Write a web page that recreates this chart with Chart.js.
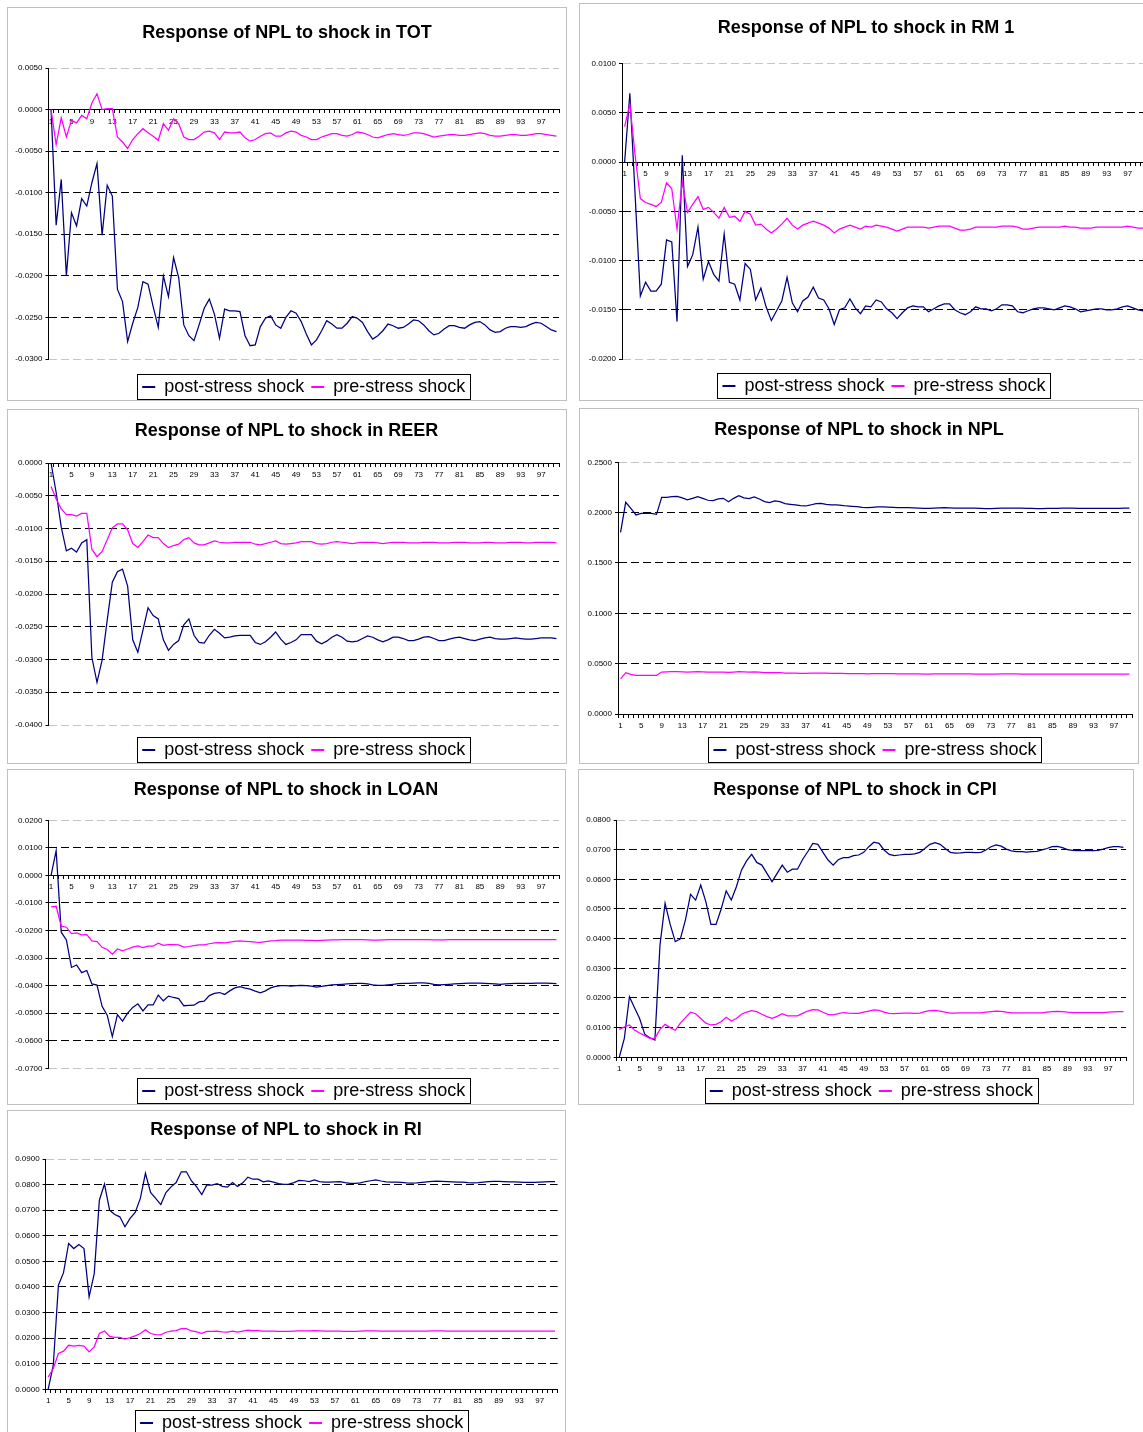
<!DOCTYPE html>
<html><head><meta charset="utf-8">
<script src="https://cdn.jsdelivr.net/npm/chart.js@4.4.1/dist/chart.umd.min.js"></script>
<style>
html,body{margin:0;padding:0;background:#fff;}
body{width:1143px;height:1432px;overflow:hidden;position:relative;}
.panel{position:absolute;border:1px solid #c0c0c0;box-sizing:border-box;background:#fff;}
.title{position:absolute;font:bold 18px "Liberation Sans",Arial,sans-serif;line-height:18px;color:#000;white-space:nowrap;transform:translate(-50%,-50%);}
canvas{position:absolute;}
</style></head><body>
<script>
// ---------- categories ----------
const periods = [1,2,3,4,5,6,7,8,9,10,11,12,13,14,15,16,17,18,19,20,21,22,23,24,25,26,27,28,29,30,
31,32,33,34,35,36,37,38,39,40,41,42,43,44,45,46,47,48,49,50,51,52,53,54,55,56,57,58,59,60,
61,62,63,64,65,66,67,68,69,70,71,72,73,74,75,76,77,78,79,80,81,82,83,84,85,86,87,88,89,90,
91,92,93,94,95,96,97,98,99,100];

const seriesNames = ['post-stress shock', 'pre-stress shock'];

// ---------- TOT ----------
const totPost = [0,-0.0139,-0.0084,-0.0200,-0.0124,-0.0140,-0.0107,-0.0116,-0.0088,-0.0065,
-0.0151,-0.0091,-0.0104,-0.0216,-0.0231,-0.0279,-0.0257,-0.0238,-0.0207,-0.0210,
-0.0237,-0.0262,-0.0200,-0.0225,-0.0178,-0.0202,-0.0259,-0.0272,-0.0278,-0.0259,
-0.0239,-0.0228,-0.0246,-0.0275,-0.0240,-0.0242,-0.0242,-0.0243,-0.0272,-0.0284,
-0.0283,-0.0261,-0.0251,-0.0248,-0.0259,-0.0263,-0.0250,-0.0242,-0.0245,-0.0255,
-0.0270,-0.0283,-0.0277,-0.0266,-0.0254,-0.0258,-0.0263,-0.0263,-0.0257,-0.0249,
-0.0251,-0.0256,-0.0267,-0.0276,-0.0272,-0.0266,-0.0258,-0.0260,-0.0263,-0.0262,
-0.0258,-0.0253,-0.0254,-0.0259,-0.0266,-0.0271,-0.0269,-0.0264,-0.0260,-0.0260,
-0.0262,-0.0263,-0.0259,-0.0256,-0.0255,-0.0259,-0.0265,-0.0268,-0.0267,-0.0263,
-0.0261,-0.0261,-0.0262,-0.0261,-0.0258,-0.0256,-0.0257,-0.0261,-0.0265,-0.0267];
const totPre = [0,-0.0042,-0.0010,-0.0033,-0.0013,-0.0016,-0.0007,-0.0011,0.0008,0.0019,
0.0000,0.0001,0.0001,-0.0033,-0.0039,-0.0047,-0.0036,-0.0029,-0.0023,-0.0028,
-0.0032,-0.0037,-0.0017,-0.0025,-0.0011,-0.0017,-0.0033,-0.0036,-0.0036,-0.0032,
-0.0027,-0.0026,-0.0028,-0.0036,-0.0027,-0.0028,-0.0028,-0.0027,-0.0034,-0.0038,
-0.0036,-0.0032,-0.0029,-0.0028,-0.0032,-0.0032,-0.0028,-0.0026,-0.0027,-0.0031,
-0.0033,-0.0036,-0.0036,-0.0033,-0.0031,-0.0029,-0.0029,-0.0031,-0.0032,-0.0030,
-0.0027,-0.0028,-0.0030,-0.0033,-0.0034,-0.0032,-0.0030,-0.0029,-0.0030,-0.0031,
-0.0030,-0.0028,-0.0028,-0.0029,-0.0031,-0.0033,-0.0032,-0.0031,-0.0030,-0.0030,
-0.0031,-0.0031,-0.0030,-0.0029,-0.0028,-0.0029,-0.0031,-0.0032,-0.0032,-0.0031,
-0.0030,-0.0030,-0.0031,-0.0031,-0.0030,-0.0029,-0.0029,-0.0030,-0.0031,-0.0032];

// ---------- RM 1 ----------
const rm1Post = [0,0.0070,-0.0033,-0.0136,-0.0122,-0.0131,-0.0131,-0.0124,-0.0079,-0.0081,
-0.0162,0.0007,-0.0106,-0.0094,-0.0066,-0.0119,-0.0101,-0.0114,-0.0121,-0.0073,
-0.0122,-0.0124,-0.0140,-0.0103,-0.0109,-0.0140,-0.0128,-0.0147,-0.0161,-0.0151,
-0.0141,-0.0117,-0.0143,-0.0152,-0.0141,-0.0137,-0.0127,-0.0138,-0.0140,-0.0149,
-0.0165,-0.0150,-0.0148,-0.0139,-0.0148,-0.0154,-0.0146,-0.0147,-0.0140,-0.0142,
-0.0149,-0.0153,-0.0159,-0.0153,-0.0148,-0.0146,-0.0147,-0.0147,-0.0152,-0.0149,
-0.0146,-0.0144,-0.0144,-0.0150,-0.0153,-0.0155,-0.0152,-0.0147,-0.0149,-0.0149,
-0.0151,-0.0149,-0.0145,-0.0145,-0.0146,-0.0152,-0.0153,-0.0151,-0.0149,-0.0148,
-0.0148,-0.0149,-0.0150,-0.0148,-0.0146,-0.0147,-0.0149,-0.0152,-0.0151,-0.0150,
-0.0149,-0.0149,-0.0150,-0.0150,-0.0149,-0.0147,-0.0146,-0.0148,-0.0150,-0.0151];
const rm1Pre = [0.0036,0.0059,0.0007,-0.0037,-0.0041,-0.0043,-0.0045,-0.0041,-0.0021,-0.0027,
-0.0068,-0.0020,-0.0051,-0.0043,-0.0035,-0.0048,-0.0046,-0.0051,-0.0057,-0.0046,
-0.0056,-0.0055,-0.0060,-0.0050,-0.0053,-0.0064,-0.0063,-0.0068,-0.0072,-0.0068,
-0.0063,-0.0057,-0.0064,-0.0068,-0.0064,-0.0062,-0.0060,-0.0062,-0.0064,-0.0067,
-0.0072,-0.0068,-0.0066,-0.0064,-0.0066,-0.0068,-0.0065,-0.0066,-0.0064,-0.0065,
-0.0066,-0.0068,-0.0070,-0.0068,-0.0066,-0.0066,-0.0066,-0.0066,-0.0067,-0.0066,
-0.0065,-0.0065,-0.0065,-0.0067,-0.0069,-0.0069,-0.0068,-0.0066,-0.0066,-0.0066,
-0.0066,-0.0066,-0.0065,-0.0065,-0.0065,-0.0066,-0.0068,-0.0068,-0.0067,-0.0066,
-0.0066,-0.0066,-0.0066,-0.0066,-0.0065,-0.0066,-0.0066,-0.0067,-0.0067,-0.0067,
-0.0066,-0.0066,-0.0066,-0.0066,-0.0066,-0.0066,-0.0065,-0.0066,-0.0067,-0.0067];

// ---------- REER ----------
const reerPost = [0,-0.0045,-0.0098,-0.0134,-0.0130,-0.0136,-0.0122,-0.0117,-0.0297,-0.0335,
-0.0301,-0.0240,-0.0182,-0.0166,-0.0162,-0.0188,-0.0270,-0.0289,-0.0255,-0.0221,
-0.0233,-0.0238,-0.0270,-0.0286,-0.0277,-0.0271,-0.0247,-0.0238,-0.0263,-0.0274,
-0.0275,-0.0263,-0.0254,-0.0260,-0.0267,-0.0266,-0.0264,-0.0263,-0.0263,-0.0263,
-0.0274,-0.0277,-0.0273,-0.0266,-0.0258,-0.0269,-0.0277,-0.0274,-0.0270,-0.0262,
-0.0262,-0.0262,-0.0272,-0.0276,-0.0272,-0.0266,-0.0262,-0.0266,-0.0272,-0.0273,
-0.0272,-0.0268,-0.0264,-0.0266,-0.0270,-0.0273,-0.0270,-0.0266,-0.0266,-0.0268,
-0.0271,-0.0271,-0.0269,-0.0266,-0.0265,-0.0268,-0.0271,-0.0271,-0.0269,-0.0267,
-0.0266,-0.0268,-0.0270,-0.0271,-0.0269,-0.0267,-0.0266,-0.0268,-0.0269,-0.0269,
-0.0268,-0.0267,-0.0268,-0.0269,-0.0269,-0.0268,-0.0267,-0.0267,-0.0267,-0.0268];
const reerPre = [-0.0036,-0.0055,-0.0070,-0.0079,-0.0079,-0.0081,-0.0077,-0.0077,-0.0132,-0.0143,
-0.0135,-0.0117,-0.0099,-0.0093,-0.0093,-0.0102,-0.0123,-0.0129,-0.0120,-0.0110,
-0.0114,-0.0114,-0.0123,-0.0129,-0.0126,-0.0124,-0.0117,-0.0114,-0.0122,-0.0125,
-0.0125,-0.0122,-0.0119,-0.0121,-0.0122,-0.0122,-0.0121,-0.0121,-0.0121,-0.0121,
-0.0124,-0.0125,-0.0123,-0.0121,-0.0119,-0.0123,-0.0124,-0.0123,-0.0122,-0.0120,
-0.0120,-0.0120,-0.0123,-0.0124,-0.0123,-0.0121,-0.0120,-0.0121,-0.0122,-0.0123,
-0.0122,-0.0121,-0.0121,-0.0121,-0.0122,-0.0123,-0.0122,-0.0121,-0.0121,-0.0121,
-0.0122,-0.0122,-0.0122,-0.0121,-0.0121,-0.0121,-0.0122,-0.0122,-0.0122,-0.0121,
-0.0121,-0.0121,-0.0122,-0.0122,-0.0122,-0.0121,-0.0121,-0.0122,-0.0122,-0.0122,
-0.0121,-0.0121,-0.0121,-0.0122,-0.0122,-0.0121,-0.0121,-0.0121,-0.0121,-0.0122];

// ---------- NPL ----------
const nplPost = [0.1805,0.2103,0.2043,0.1977,0.1993,0.1993,0.1993,0.1983,0.2152,0.2152,
0.2159,0.2162,0.2146,0.2126,0.2142,0.2159,0.2142,0.2123,0.2119,0.2136,
0.2142,0.2109,0.2142,0.2169,0.2146,0.2139,0.2156,0.2136,0.2109,0.2099,
0.2116,0.2109,0.2089,0.2083,0.2076,0.2070,0.2066,0.2076,0.2089,0.2093,
0.2083,0.2076,0.2076,0.2073,0.2066,0.2063,0.2060,0.2053,0.2050,0.2053,
0.2057,0.2058,0.2056,0.2053,0.2051,0.2050,0.2050,0.2048,0.2045,0.2043,
0.2043,0.2045,0.2048,0.2050,0.2048,0.2046,0.2046,0.2045,0.2046,0.2044,
0.2042,0.2041,0.2041,0.2042,0.2044,0.2046,0.2046,0.2045,0.2044,0.2043,
0.2042,0.2041,0.2041,0.2042,0.2042,0.2043,0.2044,0.2044,0.2044,0.2043,
0.2043,0.2042,0.2042,0.2042,0.2043,0.2043,0.2043,0.2043,0.2044,0.2044];
const nplPre = [0.0348,0.0411,0.0394,0.0383,0.0384,0.0384,0.0384,0.0384,0.0417,0.0419,
0.0420,0.0421,0.0419,0.0417,0.0418,0.0420,0.0418,0.0416,0.0415,0.0416,
0.0417,0.0413,0.0416,0.0420,0.0418,0.0417,0.0418,0.0416,0.0412,0.0410,
0.0411,0.0410,0.0407,0.0406,0.0405,0.0404,0.0403,0.0405,0.0406,0.0406,
0.0405,0.0404,0.0404,0.0403,0.0402,0.0401,0.0401,0.0400,0.0399,0.0400,
0.0401,0.0401,0.0400,0.0400,0.0399,0.0399,0.0399,0.0398,0.0398,0.0397,
0.0397,0.0398,0.0398,0.0399,0.0398,0.0398,0.0398,0.0398,0.0398,0.0397,
0.0397,0.0397,0.0397,0.0397,0.0398,0.0398,0.0398,0.0398,0.0397,0.0397,
0.0397,0.0397,0.0397,0.0397,0.0397,0.0397,0.0397,0.0397,0.0397,0.0397,
0.0397,0.0397,0.0397,0.0397,0.0397,0.0397,0.0397,0.0397,0.0397,0.0397];

// ---------- LOAN ----------
const loanPost = [0,0.0090,-0.0206,-0.0234,-0.0334,-0.0325,-0.0353,-0.0345,-0.0394,-0.0398,
-0.0475,-0.0507,-0.0585,-0.0505,-0.0529,-0.0500,-0.0479,-0.0466,-0.0492,-0.0470,
-0.0470,-0.0434,-0.0455,-0.0438,-0.0443,-0.0447,-0.0473,-0.0472,-0.0471,-0.0459,
-0.0456,-0.0436,-0.0428,-0.0425,-0.0432,-0.0419,-0.0408,-0.0404,-0.0409,-0.0413,
-0.0420,-0.0426,-0.0419,-0.0408,-0.0403,-0.0400,-0.0400,-0.0402,-0.0400,-0.0399,
-0.0400,-0.0402,-0.0405,-0.0403,-0.0400,-0.0397,-0.0396,-0.0395,-0.0394,-0.0393,
-0.0392,-0.0392,-0.0394,-0.0397,-0.0399,-0.0399,-0.0397,-0.0395,-0.0393,-0.0392,
-0.0392,-0.0391,-0.0390,-0.0390,-0.0392,-0.0395,-0.0397,-0.0396,-0.0395,-0.0394,
-0.0393,-0.0392,-0.0391,-0.0391,-0.0391,-0.0392,-0.0393,-0.0394,-0.0395,-0.0394,
-0.0393,-0.0392,-0.0392,-0.0392,-0.0392,-0.0391,-0.0391,-0.0391,-0.0392,-0.0393];
const loanPre = [-0.0114,-0.0112,-0.0184,-0.0188,-0.0211,-0.0209,-0.0216,-0.0215,-0.0238,-0.0240,
-0.0261,-0.0269,-0.0286,-0.0267,-0.0274,-0.0267,-0.0260,-0.0256,-0.0262,-0.0257,
-0.0257,-0.0246,-0.0254,-0.0251,-0.0251,-0.0252,-0.0260,-0.0258,-0.0255,-0.0252,
-0.0252,-0.0248,-0.0245,-0.0244,-0.0245,-0.0242,-0.0239,-0.0238,-0.0239,-0.0240,
-0.0242,-0.0243,-0.0240,-0.0238,-0.0237,-0.0235,-0.0235,-0.0235,-0.0235,-0.0235,
-0.0236,-0.0236,-0.0237,-0.0236,-0.0235,-0.0234,-0.0234,-0.0233,-0.0233,-0.0233,
-0.0233,-0.0233,-0.0234,-0.0235,-0.0235,-0.0234,-0.0233,-0.0233,-0.0233,-0.0233,
-0.0233,-0.0233,-0.0233,-0.0233,-0.0233,-0.0234,-0.0234,-0.0234,-0.0233,-0.0233,
-0.0233,-0.0233,-0.0233,-0.0233,-0.0233,-0.0233,-0.0233,-0.0233,-0.0233,-0.0233,
-0.0233,-0.0233,-0.0233,-0.0233,-0.0233,-0.0233,-0.0233,-0.0233,-0.0233,-0.0233];

// ---------- CPI ----------
const cpiPost = [0.0000,0.0064,0.0204,0.0167,0.0131,0.0078,0.0066,0.0058,0.0379,0.0519,
0.0448,0.0390,0.0399,0.0463,0.0549,0.0530,0.0581,0.0525,0.0448,0.0448,
0.0499,0.0561,0.0530,0.0575,0.0631,0.0662,0.0684,0.0657,0.0648,0.0620,
0.0592,0.0620,0.0648,0.0624,0.0634,0.0634,0.0667,0.0693,0.0721,0.0718,
0.0691,0.0665,0.0648,0.0666,0.0673,0.0673,0.0680,0.0682,0.0691,0.0710,
0.0725,0.0721,0.0699,0.0684,0.0680,0.0682,0.0684,0.0684,0.0686,0.0691,
0.0704,0.0718,0.0724,0.0718,0.0704,0.0691,0.0688,0.0689,0.0691,0.0691,
0.0690,0.0691,0.0699,0.0710,0.0716,0.0712,0.0702,0.0696,0.0693,0.0693,
0.0692,0.0693,0.0694,0.0699,0.0704,0.0710,0.0711,0.0707,0.0700,0.0698,
0.0697,0.0697,0.0697,0.0697,0.0698,0.0702,0.0707,0.0710,0.0710,0.0708];
const cpiPre = [0.0094,0.0102,0.0109,0.0092,0.0082,0.0073,0.0064,0.0064,0.0094,0.0111,
0.0100,0.0091,0.0115,0.0134,0.0152,0.0147,0.0131,0.0115,0.0109,0.0111,
0.0120,0.0135,0.0122,0.0131,0.0145,0.0152,0.0157,0.0154,0.0145,0.0137,
0.0131,0.0138,0.0147,0.0140,0.0140,0.0140,0.0148,0.0156,0.0161,0.0160,
0.0152,0.0145,0.0143,0.0147,0.0151,0.0149,0.0148,0.0148,0.0152,0.0156,
0.0160,0.0158,0.0152,0.0148,0.0147,0.0148,0.0149,0.0149,0.0148,0.0149,
0.0154,0.0157,0.0158,0.0156,0.0152,0.0149,0.0149,0.0150,0.0150,0.0150,
0.0150,0.0150,0.0152,0.0154,0.0156,0.0155,0.0152,0.0150,0.0150,0.0150,
0.0150,0.0150,0.0150,0.0150,0.0152,0.0154,0.0155,0.0154,0.0152,0.0151,
0.0151,0.0151,0.0151,0.0151,0.0151,0.0151,0.0152,0.0153,0.0154,0.0154];

// ---------- RI ----------
const riPost = [0.0000,0.0094,0.0407,0.0456,0.0570,0.0550,0.0566,0.0550,0.0361,0.0452,
0.0739,0.0802,0.0700,0.0683,0.0674,0.0635,0.0668,0.0691,0.0746,0.0844,
0.0769,0.0746,0.0722,0.0769,0.0791,0.0808,0.0850,0.0850,0.0814,0.0791,
0.0761,0.0799,0.0798,0.0804,0.0793,0.0790,0.0808,0.0793,0.0807,0.0829,
0.0821,0.0821,0.0811,0.0814,0.0810,0.0804,0.0801,0.0802,0.0808,0.0816,
0.0815,0.0812,0.0818,0.0812,0.0810,0.0810,0.0811,0.0812,0.0808,0.0805,
0.0805,0.0807,0.0812,0.0815,0.0818,0.0814,0.0811,0.0810,0.0810,0.0809,
0.0807,0.0806,0.0807,0.0809,0.0811,0.0813,0.0814,0.0813,0.0812,0.0811,
0.0810,0.0810,0.0808,0.0807,0.0808,0.0810,0.0812,0.0813,0.0813,0.0812,
0.0811,0.0811,0.0810,0.0809,0.0809,0.0809,0.0810,0.0811,0.0812,0.0812];
const riPre = [0.0048,0.0081,0.0140,0.0149,0.0172,0.0169,0.0172,0.0169,0.0146,0.0166,
0.0218,0.0228,0.0207,0.0203,0.0203,0.0196,0.0202,0.0209,0.0218,0.0233,
0.0218,0.0214,0.0213,0.0223,0.0227,0.0229,0.0237,0.0237,0.0228,0.0224,
0.0219,0.0226,0.0226,0.0227,0.0224,0.0223,0.0227,0.0223,0.0227,0.0231,
0.0229,0.0229,0.0227,0.0227,0.0227,0.0226,0.0226,0.0226,0.0227,0.0228,
0.0228,0.0228,0.0229,0.0228,0.0227,0.0227,0.0227,0.0227,0.0226,0.0226,
0.0226,0.0227,0.0228,0.0228,0.0228,0.0227,0.0227,0.0227,0.0227,0.0227,
0.0227,0.0227,0.0227,0.0227,0.0227,0.0228,0.0228,0.0228,0.0227,0.0227,
0.0227,0.0227,0.0227,0.0227,0.0227,0.0227,0.0227,0.0227,0.0227,0.0227,
0.0227,0.0227,0.0227,0.0227,0.0227,0.0227,0.0227,0.0227,0.0227,0.0227];

// ---------- chart list (value ranges) ----------
const charts = [
  {title:'Response of NPL to shock in TOT',  post:totPost,  pre:totPre,  yMin:-0.03, yMax:0.005, yStep:0.005},
  {title:'Response of NPL to shock in RM 1', post:rm1Post,  pre:rm1Pre,  yMin:-0.02, yMax:0.01,  yStep:0.005},
  {title:'Response of NPL to shock in REER', post:reerPost, pre:reerPre, yMin:-0.04, yMax:0,     yStep:0.005},
  {title:'Response of NPL to shock in NPL',  post:nplPost,  pre:nplPre,  yMin:0,     yMax:0.25,  yStep:0.05},
  {title:'Response of NPL to shock in LOAN', post:loanPost, pre:loanPre, yMin:-0.07, yMax:0.02,  yStep:0.01},
  {title:'Response of NPL to shock in CPI',  post:cpiPost,  pre:cpiPre,  yMin:0,     yMax:0.08,  yStep:0.01},
  {title:'Response of NPL to shock in RI',   post:riPost,   pre:riPre,   yMin:0,     yMax:0.09,  yStep:0.01}
];

// ---------- layout (page pixels) ----------
const layoutBoxes = [
  {box:[7,7,566,400],      plot:[48.5,68,559,359],        titleAt:[287,32],    legendY:387},
  {box:[579,3,1152,400],   plot:[622,63.7,1146,359],      titleAt:[866,27],    legendY:386},
  {box:[7,409,566,763],    plot:[48.5,463,559,725],       titleAt:[286.5,430], legendY:750},
  {box:[579,408,1138,763], plot:[618,462.3,1132,714],     titleAt:[859,429],   legendY:750},
  {box:[7,769,565,1104],   plot:[48.5,820.3,559,1068.3],  titleAt:[286,789],   legendY:1091},
  {box:[578,769,1133,1104],plot:[616.7,820,1126,1057.3],  titleAt:[855,789],   legendY:1091},
  {box:[7,1110,565,1445],  plot:[45.6,1159,557.6,1389.3], titleAt:[286,1129],  legendY:1423}
];

const POST_COLOR = '#000080', PRE_COLOR = '#FF00FF';
Chart.defaults.font.family = '"Liberation Sans", Arial, Helvetica, sans-serif';
Chart.defaults.color = '#000';

const legendFrame = {
  id: 'legendFrame',
  afterLayout(chart) {
    // y axis takes no layout width (legend stays centred on the plot); give its labels room to draw
    const s = chart.scales.y;
    if (s) { s.left = s.right - 60; }
  },
  afterDraw(chart) {
    const lg = chart.legend;
    if (!lg || !lg.legendHitBoxes || !lg.legendHitBoxes.length) return;
    const hb = lg.legendHitBoxes;
    const l = Math.min(...hb.map(h => h.left));
    const r = Math.max(...hb.map(h => h.left + h.width));
    const cy = hb[0].top + hb[0].height / 2;
    const ctx = chart.ctx;
    ctx.save();
    ctx.strokeStyle = '#000';
    ctx.lineWidth = 1;
    ctx.strokeRect(Math.round(l - 5) + 0.5, Math.round(cy - 13) + 0.5, Math.round(r - l + 10), 25);
    ctx.restore();
  }
};

const FS = 18, LP = 7;

charts.forEach((c, k) => {
  const L = layoutBoxes[k];
  const [bl, bt, br, bb] = L.box;
  const [pl, pt, pr, pb] = L.plot;

  const panel = document.createElement('div');
  panel.className = 'panel';
  Object.assign(panel.style, {left: bl + 'px', top: bt + 'px', width: (br - bl + 1) + 'px', height: (bb - bt + 1) + 'px'});
  document.body.appendChild(panel);

  const T = L.legendY - pb - LP - FS / 2;
  const need = (pb - bt) + T + FS + LP + 10;
  const H = Math.ceil(need);
  const W = br - bl + 1;
  const cv = document.createElement('canvas');
  cv.width = W; cv.height = H;
  Object.assign(cv.style, {left: bl + 'px', top: bt + 'px', width: W + 'px', height: H + 'px'});
  document.body.appendChild(cv);

  const t = document.createElement('div');
  t.className = 'title';
  t.textContent = c.title;
  t.style.left = L.titleAt[0] + 'px';
  t.style.top = L.titleAt[1] + 'px';
  document.body.appendChild(t);

  const isEnd = v => Math.abs(v - c.yMin) < 1e-9 || Math.abs(v - c.yMax) < 1e-9;

  new Chart(cv, {
    type: 'line',
    data: {
      labels: periods.map(String),
      datasets: [
        {label: seriesNames[0], data: c.post, borderColor: POST_COLOR, backgroundColor: POST_COLOR,
         borderWidth: 1.25, pointRadius: 0, tension: 0, fill: false, order: 1},
        {label: seriesNames[1], data: c.pre, borderColor: PRE_COLOR, backgroundColor: PRE_COLOR,
         borderWidth: 1.25, pointRadius: 0, tension: 0, fill: false, order: 0}
      ]
    },
    options: {
      responsive: false, animation: false, devicePixelRatio: 1,
      events: [],
      layout: {autoPadding: false, padding: {left: pl - bl, right: br + 1 - pr, top: pt - bt, bottom: H - need}},
      plugins: {
        title: {display: false},
        tooltip: {enabled: false},
        legend: {
          display: true, position: 'bottom', align: 'center',
          title: {display: true, text: '', padding: 0, font: {size: 1, lineHeight: T + 'px'}},
          labels: {
            boxWidth: 13, boxHeight: 2, padding: LP, color: '#000', font: {size: FS},
            generateLabels: ch => ch.data.datasets.map((d, i) => ({
              text: d.label, fillStyle: d.borderColor, strokeStyle: d.borderColor, lineWidth: 0,
              hidden: false, datasetIndex: i, fontColor: '#000'
            }))
          }
        }
      },
      scales: {
        x: {
          type: 'category', offset: true, position: {y: 0},
          grid: {display: true, drawOnChartArea: false, drawTicks: true, tickLength: 3,
                 color: '#000', tickColor: '#000', offset: true, lineWidth: 1},
          border: {display: true, color: '#000', width: 1},
          ticks: {autoSkip: false, maxRotation: 0, minRotation: 0, padding: 4,
                  font: {size: 8}, color: '#000',
                  callback: (v, i) => (i % 4 === 0 ? String(periods[i]) : '')}
        },
        y: {
          type: 'linear', min: c.yMin, max: c.yMax, position: 'left',
          afterFit: s => { s.width = 0; },
          ticks: {stepSize: c.yStep, font: {size: 8}, color: '#000', padding: 3, autoSkip: false,
                  callback: v => { const r = Math.round(v * 1e4) / 1e4; return (r === 0 ? 0 : r).toFixed(4); }},
          grid: {drawOnChartArea: true, drawTicks: true, tickLength: 3, lineWidth: 1,
                 tickColor: '#000', tickBorderDash: [],
                 color: ctx => (ctx.tick && isEnd(ctx.tick.value)) ? '#c4c4c4' : '#000'},
          border: {display: true, color: '#000', width: 1, dash: [8, 4]}
        }
      }
    },
    plugins: [legendFrame]
  });
});
</script>
</body></html>
